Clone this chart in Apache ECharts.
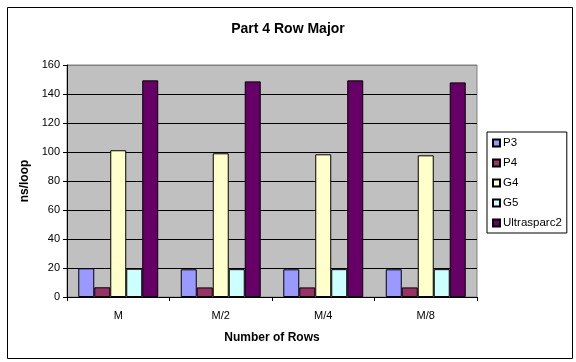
<!DOCTYPE html>
<html><head><meta charset="utf-8">
<script src="https://cdn.jsdelivr.net/npm/echarts@6/dist/echarts.min.js"></script>
<style>html,body{margin:0;padding:0;background:#fff}#c{width:576px;height:362px}</style>
</head><body><div id="c"></div>
<script>
const categories = ['M', 'M/2', 'M/4', 'M/8'];
const seriesNames = ['P3', 'P4', 'G4', 'G5', 'Ultrasparc2'];
const P3 = [19.8, 19.1, 19.1, 19.1];
const P4 = [6.7, 6.6, 6.6, 6.6];
const G4 = [101.2, 99.1, 98.4, 97.7];
const G5 = [19.5, 19.2, 19.2, 19.2];
const Ultrasparc2 = [149.4, 148.7, 149.4, 148.0];
const yTicks = { min: 0, max: 160, interval: 20 };
const colors = ['#9999FF', '#993366', '#FFFFCC', '#CCFFFF', '#660066'];
const values = [P3, P4, G4, G5, Ultrasparc2];
const FONT = 'Liberation Sans, Arial, sans-serif';

const chart = echarts.init(document.getElementById('c'), null, { renderer: 'canvas' });
chart.setOption({
  animation: false,
  backgroundColor: '#fff',
  textStyle: { fontFamily: FONT },
  title: {
    text: 'Part 4 Row Major', left: 'center', top: 17,
    textStyle: { fontFamily: FONT, fontSize: 14, fontWeight: 'bold', color: '#000' }
  },
  graphic: [{
    type: 'rect', left: 5, top: 5, z: -1,
    shape: { width: 565, height: 351 },
    style: { fill: 'none', stroke: '#000', lineWidth: 1 }
  }],
  legend: {
    orient: 'vertical', left: 487, top: 132,
    data: seriesNames,
    itemWidth: 7, itemHeight: 7, itemGap: 8,
    icon: 'rect',
    padding: [5, 5, 4, 5],
    borderColor: '#000', borderWidth: 1, backgroundColor: '#fff',
    textStyle: { fontFamily: FONT, fontSize: 11.5, color: '#000', padding: [0, 0, 0, -2] }
  },
  grid: {
    left: 67, top: 65, right: 99, bottom: 65,
    show: true, backgroundColor: '#C0C0C0', borderColor: '#808080', borderWidth: 1
  },
  xAxis: {
    type: 'category', data: categories,
    name: 'Number of Rows', nameLocation: 'middle', nameGap: 35,
    nameTextStyle: { fontFamily: FONT, fontSize: 12, fontWeight: 'bold', color: '#000' },
    axisLine: { lineStyle: { color: '#000', width: 1 } },
    axisTick: { show: true, length: 4, lineStyle: { color: '#000' } },
    axisLabel: { fontFamily: FONT, fontSize: 11, color: '#000', margin: 13 },
    splitLine: { show: false }
  },
  yAxis: {
    type: 'value', min: yTicks.min, max: yTicks.max, interval: yTicks.interval,
    name: 'ns/loop', nameLocation: 'middle', nameGap: 31, nameRotate: 90,
    nameTextStyle: { fontFamily: FONT, fontSize: 12, fontWeight: 'bold', color: '#000' },
    axisLine: { show: true, lineStyle: { color: '#000', width: 1 } },
    axisTick: { show: true, length: 4, lineStyle: { color: '#000' } },
    axisLabel: { fontFamily: FONT, fontSize: 11, color: '#000', margin: 7 },
    splitLine: { show: true, lineStyle: { color: ['#000','#000','#000','#000','#000','#000','#000','#000','#808080'], width: 1 } }
  },
  series: seriesNames.map((n, i) => ({
    name: n, type: 'bar', data: values[i],
    barGap: '0%', barCategoryGap: '22%',
    itemStyle: { color: colors[i], borderColor: '#000', borderWidth: 1 }
  }))
});
</script></body></html>
